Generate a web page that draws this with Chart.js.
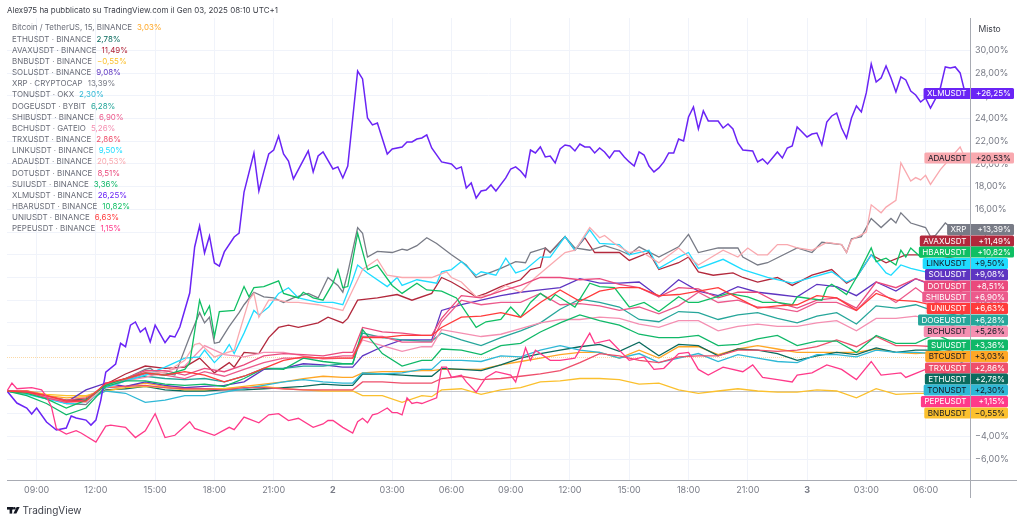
<!DOCTYPE html>
<html>
<head>
<meta charset="utf-8">
<title>Crypto compare</title>
<script src="https://cdn.jsdelivr.net/npm/chart.js@4/dist/chart.umd.min.js"></script>
<style>
    html, body { margin: 0; padding: 0; background: #fff; }
    canvas { display: block; }
</style>
</head>
<body>
<canvas id="chart" width="1024" height="522"></canvas>
<script>
// All values are % change. One bar = 15 minutes, bar 0 = 07:30.
const caption = 'Alex975 ha pubblicato su TradingView.com il Gen 03, 2025 08:10 UTC+1';
const tickBars = [6, 18, 30, 42, 54, 66, 78, 90, 102, 114, 126, 138, 150, 162, 174, 186];
const tickLabels = ['09:00', '12:00', '15:00', '18:00', '21:00', '2', '03:00', '06:00', '09:00', '12:00',
    '15:00', '18:00', '21:00', '3', '03:00', '06:00'];
const pctTicks = [-6, -4, -2, 0, 2, 4, 6, 8, 10, 12, 14, 16, 18, 20, 22, 24, 26, 28, 30];

// the bunched series are read once per hour, plus the bars just before the two jumps
const hourBars = [0, 4, 8, 12, 16, 20, 24, 28, 32, 36, 40, 44, 48, 52, 56, 60, 64, 68, 70, 72, 76, 80, 84, 86, 88, 92, 96,
    100, 104, 108, 112, 116, 120, 124, 128, 132, 136, 140, 144, 148, 152, 156, 160, 164, 168, 172, 176, 180, 184,
    188, 192, 194];

const btc = [0, 0, -.4, -.6, -.5, .3, .4, .7, .4, .3, .2, .2, .4, .6, .8, 1.1, 1.3, 1.2, 1.2, 1.6, 1.7,
    1.7, 1.8, 1.8, 1.9, 1.9, 1.9, 2.3, 2.6, 2.9, 3.2, 3.4, 3.4, 2.9, 3.6, 2.9, 3.9, 3.9, 3.2, 3.7, 4, 3.7,
    3.4, 3.4, 3.4, 3.4, 3.7, 3.4, 3.3, 3.4, 3.2, 3.03];
const eth = [0, -.1, -.5, -.8, -.7, .1, .2, .4, .1, 0, 0, .1, .1, .2, .3, .4, .6, .5, .5, 1.5, 1.5,
    1.4, 1.3, 1.3, 2, 1.9, 1.8, 2.3, 2.9, 3.3, 3.6, 3.9, 4.1, 3.5, 4.3, 3.1, 4.1, 4, 3.1, 3.7, 3.6, 3.3,
    2.7, 3.1, 3.4, 3.2, 3.8, 3.4, 3.6, 3.6, 3.2, 2.78];
const bnb = [0, 0, -.3, -.4, -.4, 0, .3, .4, .3, .1, .1, .2, .3, .4, .2, .1, 0, 0, 0, -.4, -.4,
    -1, -.4, -.5, .1, .2, -.3, .1, .3, .8, .9, 1.1, 1.1, 1, .6, .7, .1, -.2, 0, .2, 0, -.1,
    -.1, .1, 0, -.6, .2, -.3, -.2, -.2, -.2, -.55];
const sol = [0, -.2, -.6, -1, .1, .7, .4, .8, .5, .3, .4, .5, .8, 1.9, 2, 2.4, 2.3, 2.1, 2.1, 3.1, 3.9,
    4.5, 4.5, 4.5, 7.1, 7.6, 8, 8.4, 8.7, 8.9, 9.1, 9.9, 9.5, 9.5, 9.6, 8.3, 9.8, 8.8, 8.4, 9.2, 8.7, 8.5,
    8.3, 9.4, 9.2, 8.4, 9.6, 8.8, 9.9, 9.2, 9.3, 9.08];
const ton = [0, -.1, -.6, -1, -.9, 0, -.2, -1, -.8, -.4, -.4, -.1, .2, .5, .8, 1, .8, .7, .7, 1.6, 1.5,
    1.6, 1.9, 1.9, 2.7, 2.7, 2.6, 3.1, 3, 3.6, 4, 3.6, 3.4, 2.9, 3.3, 2.5, 2.9, 3.3, 2.6, 3.2, 2.9, 2.6,
    2.5, 3.2, 3.2, 3, 3.6, 3.4, 3.4, 3.3, 2.9, 2.3];
const doge = [0, -.1, -.6, -1, -1, .4, 1, 1.3, 1.1, 1, 1.1, .8, 1.3, 2, 2, 2.2, 2.2, 2.4, 2.4, 5.1, 4.7,
    4.5, 4.4, 4.4, 5.1, 4.5, 4, 4.7, 5.3, 6, 7.2, 8.1, 7.8, 7.4, 6.3, 6.1, 7, 6.9, 6.3, 6.7, 6.9, 6.4,
    6, 6.6, 6.9, 5.9, 7.5, 7.3, 7.6, 7, 6.7, 6.28];
const shib = [0, -.1, -.7, -1, -1, .4, 1, 1.5, 1.4, 1.1, 1.7, 1.3, 1.9, 2.5, 2.9, 2.9, 2.9, 3.1, 3.1, 4.8, 4.8,
    4.3, 4.3, 4.3, 6.1, 8, 7.6, 7.8, 7.8, 8.6, 7.6, 7.7, 7.5, 7.1, 7.4, 6.8, 7.5, 8.7, 7.8, 8, 7.4, 7.3,
    7, 7.8, 7.8, 7.1, 8.9, 7.8, 9.1, 7.8, 7.5, 6.9];
const bch = [0, -.1, -.5, -.9, -1, .3, .9, 1.2, 1.7, 2.2, 4, 3.2, 3, 3.4, 3.4, 3.1, 2.8, 2.9, 2.9, 4.5, 4,
    3.5, 3.9, 3.9, 5.4, 5.1, 4.8, 5, 5.5, 6, 6.3, 6.3, 6.5, 6.4, 5.9, 5.6, 6.2, 6.2, 5.3, 5.7, 5.9, 5.7,
    5.7, 6, 6.2, 5.3, 6.4, 6.4, 6.6, 6.2, 5.7, 5.26];
const trx = [0, 0, -.4, -.8, -.6, .3, .4, .5, .3, .2, .2, .1, .3, .3, .2, .1, .1, .1, .1, .8, .8,
    .7, .7, .7, 1.1, 1.3, 1, 1.1, 1.3, 1.5, 1.8, 2.5, 3.3, 3.1, 2.7, 2.5, 3, 3.1, 3.1, 3.6, 3.6, 3.5,
    3.6, 3.9, 4.5, 3.9, 4.8, 4, 4, 3.9, 3.4, 2.86];
const dot = [0, -.1, -.6, -1, -.8, .6, 1.1, 1.8, 1.8, 1.4, 2, 1.7, 2.3, 3.1, 3.3, 3.2, 3.1, 3.4, 3.4, 5.6, 5.2,
    5.1, 4.9, 4.9, 6.4, 8.4, 8.2, 8.8, 9.3, 10, 10, 9.8, 9.9, 9.4, 9.1, 8.3, 9.1, 9, 8.2, 8.7, 8.7, 7.8,
    7.3, 8, 8.2, 7.3, 9.6, 9.1, 9.9, 9.3, 9.1, 8.51];
const sui = [0, -.4, -1.1, -2.1, -1.5, .4, .9, .9, .6, .5, .6, .4, 1.1, 2, 1.9, 2.9, 2.6, 2.4, 2.4, 5.4, 3.3,
    2.2, 2.7, 2.7, 3.7, 3.6, 3.2, 4, 4.2, 5.2, 6, 6.7, 6.2, 5.8, 5, 4.7, 4.7, 4.9, 4, 4.1, 4.6, 4.9,
    4, 4.4, 4.4, 3.4, 4.9, 4.2, 4.2, 5, 4.2, 3.36];
const uni = [0, -.1, -.4, -.9, -.9, .7, 1.1, 1.6, 1.4, 1.7, 1.4, .8, 1.3, 2, 2.7, 3, 2.9, 2.9, 2.9, 4.7, 4.7,
    4.9, 4.9, 4.9, 5.6, 6.5, 6.6, 6.9, 6.5, 7.8, 8.9, 7.9, 8.8, 9.1, 9.1, 8.4, 8.5, 8.8, 9.1, 8.2, 7.3, 7.5,
    7.6, 8.4, 8.2, 7.1, 8.6, 8, 7.9, 7.5, 7, 6.63];

// the ones that stand out are read vertex by vertex, each with its own bars
const xrpBars = [0, 4, 8, 12, 16, 20, 24, 28, 29, 30, 32, 34, 37, 39, 40, 41, 42, 43, 45, 47, 48, 50, 52, 54, 56, 58, 61, 63, 65, 67,
    68, 69, 71, 72, 73, 75, 78, 80, 81, 83, 85, 87, 90, 93, 95, 97, 100, 103, 105, 106, 109, 110, 113, 115, 118, 121, 124, 126,
    128, 132, 136, 138, 140, 144, 148, 149, 152, 154, 160, 163, 165, 169, 170, 171, 173, 175, 177, 179, 180, 181, 183, 186, 187,
    188, 190, 194];
const xrp = [0, -.2, -.5, -1.1, -1.2, .5, 1.1, 1.9, 2, 1.7, 1.6, 1.4, 4.8, 6.9, 6, 6.5, 4.2, 4.3, 5.7, 6.9, 7.6, 8.7, 8.3, 8.2, 7.8, 8.2, 8.6, 8.2, 10, 9.3,
    8.7, 10.4, 14.4, 13.9, 11.8, 12.3, 12.2, 12.5, 12.4, 12.8, 13.5, 13, 12, 11.1, 10, 10.3, 10.8, 11.4, 11.3, 12.2, 12.6, 12.2, 13.6, 12.6, 12.4, 12.8, 12.4, 12,
    12.7, 11.8, 12.7, 13.8, 12.2, 12.6, 12.6, 11.8, 11.1, 11.3, 12.6, 12.2, 13.1, 12.9, 12.2, 13.4, 13.6, 15.2, 14.4, 15.2, 14.8, 15.7, 14.8, 14.4, 13.6,
    13.7, 14.8, 13.39];
const hbarBars = [0, 4, 8, 12, 16, 20, 24, 28, 32, 36, 37, 39, 40, 41, 42, 43, 46, 48, 49, 50, 52, 55, 56, 59, 60, 62, 64, 66, 67, 68, 69, 71, 73, 75, 78,
    80, 83, 85, 88, 91, 95, 97, 100, 102, 104, 106, 108, 110, 111, 115, 118, 120, 123, 126, 129, 132, 136, 138, 140, 146, 150, 153, 156, 159, 160,
    165, 166, 167, 170, 172, 175, 176, 178, 180, 181, 182, 183, 185, 190, 194];
const hbar = [0, -.2, -.7, -1.5, -.8, .5, 1.1, 1.6, 1.4, 1.9, 2.5, 8, 6.7, 7.5, 4.8, 7, 7.1, 9.2, 8.3, 9.1, 9.2, 9.7, 8.6, 8.2, 8.7, 8.2, 8, 9.5, 10.7, 9.1, 9.2, 13.9, 10.7, 11.1, 9.3,
    8.6, 9.5, 8.9, 8.8, 8.2, 5.6, 6.1, 6.3, 7.4, 6.5, 7.8, 8.6, 8, 8.5, 7.4, 9.5, 9.2, 9.1, 7.4, 7.8, 7, 8.3, 7.8, 7.8, 8.6, 8.3, 7.8, 7.8, 7.6, 8.3,
    8, 9.1, 9.4, 8.5, 10, 12.6, 11.4, 11.7, 11.1, 12.4, 11.8, 12.6, 11.8, 12, 10.82];
const adaBars = [0, 4, 8, 12, 16, 20, 24, 28, 32, 36, 38, 39, 42, 46, 47, 49, 50, 51, 53, 55, 57, 59, 63, 68, 70, 72, 75, 77, 80, 86, 89, 90, 92, 95, 98,
    101, 104, 107, 110, 113, 115, 118, 120, 121, 123, 126, 128, 132, 136, 140, 145, 148, 150, 152, 154, 156, 158, 160, 163, 166, 169, 170, 171, 174,
    175, 177, 178, 180, 181, 183, 184, 185, 186, 187, 189, 193, 194];
const ada = [0, -.2, -.6, -1, -1, .4, 1.1, 1.7, 1.6, 2.7, 4.1, 4.2, 3, 3.6, 5.1, 8, 8.6, 6.5, 8, 8, 7.8, 7.8, 7.6, 7.1, 8.9, 10.7, 11.6, 10.2, 10, 10, 10.5, 10, 9.6, 8.3, 8.5,
    9.3, 8.7, 10, 11.1, 12.2, 12.4, 14.4, 13.5, 13.7, 13, 12.2, 12.4, 11.3, 12.6, 11.1, 12.4, 11.8, 12.6, 12, 12, 12.9, 12.9, 12.6, 12.4, 13.1, 12.9, 12.2, 13.3, 14,
    16.4, 15.7, 16.2, 16.8, 20.1, 18.5, 18.8, 18.6, 19, 18.2, 19.5, 21.5, 20.53];
const linkBars = [0, 4, 8, 12, 16, 20, 24, 28, 32, 36, 39, 40, 42, 44, 45, 46, 48, 50, 51, 53, 55, 57, 59, 63, 66, 68, 70, 71, 73, 77, 79, 80, 83, 87, 88, 90, 92, 95, 96, 99,
    101, 103, 105, 108, 110, 113, 115, 118, 120, 124, 126, 130, 132, 136, 138, 140, 145, 149, 154, 159, 163, 167, 170, 172, 175, 178, 179, 181, 183, 186, 194];
const link = [0, -.3, -.7, -1.1, -1, .3, .9, 1.4, 2.1, 2.9, 3, 3.6, 2.5, 3.4, 4.1, 3.3, 5.1, 7.1, 6.7, 7.4, 8.6, 9.1, 8.2, 7.8, 7.8, 7.6, 9.8, 11.1, 10.4, 9.2, 10, 9.3, 9.8, 9.5, 10.5, 10.7, 11.4, 10.2, 10.5, 10.2,
    11.7, 10.4, 10.7, 11.8, 11.8, 13.6, 12.4, 14.2, 13, 12.9, 12, 12.4, 10.8, 11.8, 12.2, 10.8, 11.6, 10.7, 10, 9.5, 10, 10.5, 9.6, 10, 12, 10.4, 10.2, 11.1, 10.8, 10.5, 9.5];
const avaxBars = [0, 4, 8, 12, 16, 20, 24, 28, 32, 36, 39, 42, 45, 46, 48, 51, 53, 55, 57, 59, 61, 63, 65, 68, 69, 71, 75, 79, 82, 86, 88, 90, 92, 95, 97, 100, 102, 104, 106, 108, 109, 110,
    113, 115, 117, 119, 124, 126, 130, 132, 136, 138, 140, 143, 147, 149, 152, 156, 159, 163, 167, 170, 172, 175, 178, 182, 188, 194];
const avax = [0, -.1, -.5, -.9, -.8, .6, 1.5, 2.2, 2, 2.1, 2.9, 1.6, 2.5, 2.1, 3.4, 3.3, 4.7, 5.6, 5.8, 5.6, 5.8, 6, 6.5, 6, 6.4, 8, 8.2, 8.5, 8, 8.6, 10, 9.6, 9.1, 8.3, 8.6, 9.2, 9.5, 9.8, 10.7, 10.9, 12.6, 12.2,
    13.6, 12.4, 13.5, 12.2, 12.2, 11.5, 12.2, 10.7, 11.3, 11.8, 10.5, 10.2, 10.4, 10, 9.6, 10, 9.3, 10.2, 10.7, 9.5, 10, 12, 11.3, 12, 12, 11.49];
const pepeBars = [0, 1, 2, 5, 7, 8, 9, 10, 12, 14, 15, 18, 20, 21, 24, 26, 28, 30, 32, 34, 37, 38, 42, 45, 46, 48, 51, 53, 55, 57, 59, 62, 64, 65, 66, 68, 70, 71, 72, 73, 74, 75, 77, 78, 79, 80,
    81, 82, 83, 84, 87, 88, 89, 90, 92, 93, 95, 97, 99, 102, 103, 105, 106, 107, 110, 112, 115, 118, 119, 122, 126, 129, 131, 133, 136, 138, 140, 142, 145, 149, 151, 153, 156, 159, 160,
    163, 166, 169, 172, 175, 177, 181, 182, 186, 194];
const pepe = [0, .7, .2, .3, .1, -.5, -1.4, -3.3, -3.8, -3.5, -3.7, -4.5, -3.1, -3, -3.2, -4.1, -3.5, -2, -4.1, -3.9, -2.7, -3.3, -3.9, -3.2, -3.4, -2.3, -2.8, -2.1, -2, -2.6, -2.4, -3.2, -2.9, -2.6, -2.6, -3.2, -3.7, -2.7, -2.4, -2.8, -2.1, -2, -1.5, -1.9, -1.9, -2.1,
    -.6, -1.1, -1, -1.1, -.6, 2.1, 2.1, 1.2, 1.4, .8, -.1, 1.2, 1.7, 1.4, .8, 3.8, 2.7, 3.6, 2.7, 2.7, 2.9, 5.1, 4.2, 4.5, 2.7, 3, 1.9, 2, 3.3, 3.4, 1.9, 1.4, 2.1, 1.7, 2.3, 1.2, 1, .8, 1.4,
    1.6, 2.3, 1.9, 1, 2.6, 1.4, 1.6, 1.2, 1.9, 1.15];
const xlmBars = [0, 2, 4, 5, 6, 8, 10, 12, 13, 14, 16, 17, 18, 19, 20, 22, 23, 24, 25, 26, 27, 28, 29, 30, 32, 33, 34, 35, 37,
    38, 39, 40, 41, 42, 43, 44, 46, 47, 48, 50, 51, 52, 53, 54, 55, 56, 57, 58, 61, 62, 63, 64, 66, 67, 68, 69, 71,
    72, 73, 74, 75, 77, 78, 80, 81, 82, 83, 84, 85, 86, 88, 90, 91, 92, 93, 94, 95, 96, 97, 98, 99, 101, 102, 103,
    104, 105, 106, 107, 108, 109, 110, 111, 112, 113, 114, 115, 116, 117, 118, 119, 120, 121, 122, 123, 124, 125,
    126, 127, 128, 129, 130, 131, 132, 133, 134, 135, 136, 137, 138, 139, 140, 141, 142, 144, 145, 146, 147, 148,
    149, 151, 152, 153, 154, 156, 157, 158, 159, 160, 162, 163, 164, 165, 166, 167, 168, 169, 170, 171, 172, 173,
    174, 175, 176, 177, 178, 179, 180, 181, 182, 183, 184, 185, 186, 187, 188, 189, 190, 191, 192, 193, 194];
const xlm = [0, -1.06, -1.5, -2.03, -1.5, -2.73, -3.44, -3.26, -2.2, -2.38, -2.56, -3, -2.56, -.8, 1.67, 2.38, 4.2, 3.9, 5.8,
    6.08, 5.2, 5.55, 4.34, 5.8, 4.26, 4.85, 4.76, 5.64, 8.63, 12.69, 14.54, 12.16, 13.66, 11.28, 11.01, 12.25, 13.57,
    13.92, 17.53, 20.97, 17.62, 19.3, 20.88, 21.23, 22.47, 20.88, 20.26, 18.68, 21.15, 19.3, 20.7, 21.06, 19.56, 19.74,
    18.77, 19.82, 28.19, 27.49, 24.05, 23.44, 23.61, 20.88, 21.32, 21.5, 21.94, 21.94, 22.2, 22.29, 22.56, 21.41,
    20.18, 20, 19.56, 19.74, 17.89, 18.33, 17, 17.62, 17.71, 18.15, 17.62, 18.77, 19.56, 19.74, 19.38, 18.85, 21.23,
    20.97, 21.5, 20.62, 20.7, 20.09, 21.32, 21.67, 21.59, 21.15, 21.76, 21.5, 21.5, 20.97, 21.41, 21.06, 20.53, 21.15,
    21.15, 20.62, 20.18, 19.82, 21.06, 20.79, 19.82, 19.3, 19.65, 20.18, 20.97, 20.97, 22.2, 22.03, 24.14, 25.02,
    23.08, 24.67, 23.79, 23.79, 23.17, 23.52, 23.08, 21.85, 21.23, 21.15, 20.18, 20.44, 20, 21.06, 20.53, 21.41,
    21.59, 23.26, 22.38, 22.64, 22.73, 21.67, 23.7, 24.23, 24.49, 23.17, 22.29, 24.05, 25.11, 24.58, 26.26, 28.81,
    27.22, 27.58, 28.63, 27.58, 26.34, 27.67, 27.4, 26.43, 26.08, 25.46, 25.81, 24.93, 25.73, 26.7, 28.55, 28.46,
    28.55, 28.02, 26.25];

// legend order from the picture, later ones are drawn on top
const seriesNames = ['BTCUSDT', 'ETHUSDT', 'AVAXUSDT', 'BNBUSDT', 'SOLUSDT', 'XRP', 'TONUSDT', 'DOGEUSDT', 'SHIBUSDT', 'BCHUSDT',
    'TRXUSDT', 'LINKUSDT', 'ADAUSDT', 'DOTUSDT', 'SUIUSDT', 'XLMUSDT', 'HBARUSDT', 'UNIUSDT', 'PEPEUSDT'];
const legendNames = ['Bitcoin / TetherUS, 15, BINANCE', 'ETHUSDT · BINANCE', 'AVAXUSDT · BINANCE', 'BNBUSDT · BINANCE', 'SOLUSDT · BINANCE',
    'XRP · CRYPTOCAP', 'TONUSDT · OKX', 'DOGEUSDT · BYBIT', 'SHIBUSDT · BINANCE', 'BCHUSDT · GATEIO', 'TRXUSDT · BINANCE',
    'LINKUSDT · BINANCE', 'ADAUSDT · BINANCE', 'DOTUSDT · BINANCE', 'SUIUSDT · BINANCE', 'XLMUSDT · BINANCE', 'HBARUSDT · BINANCE',
    'UNIUSDT · BINANCE', 'PEPEUSDT · BINANCE'];
const seriesValues = [btc, eth, avax, bnb, sol, xrp, ton, doge, shib, bch, trx, link, ada, dot, sui, xlm, hbar, uni, pepe];
const seriesBars = [hourBars, hourBars, avaxBars, hourBars, hourBars, xrpBars, hourBars, hourBars, hourBars, hourBars,
    hourBars, linkBars, adaBars, hourBars, hourBars, xlmBars, hbarBars, hourBars, pepeBars];
const seriesColors = ['#ffa726', '#0b6b5e', '#b2283c', '#fbc02d', '#5e35c1', '#787b86', '#2fb8d6', '#26a69a', '#ec5a8c', '#f48fb1',
    '#ee4f6b', '#1fdcff', '#f9a9af', '#ea4a7d', '#10b868', '#6a24f5', '#0fbf63', '#ff3b3b', '#ff3a8a'];

// price tags down the right edge, top to bottom
const tagOrder = ['XLMUSDT', 'ADAUSDT', 'XRP', 'AVAXUSDT', 'HBARUSDT', 'LINKUSDT', 'SOLUSDT', 'DOTUSDT', 'SHIBUSDT', 'UNIUSDT',
    'DOGEUSDT', 'BCHUSDT', 'SUIUSDT', 'BTCUSDT', 'TRXUSDT', 'ETHUSDT', 'TONUSDT', 'PEPEUSDT', 'BNBUSDT'];
const tagCenters = [93.5, 158, 229.7, 241, 252, 263.5, 274.7, 286, 297, 308.5, 320, 331.5, 345, 356.5, 368, 379, 390, 401.7, 413];
const tagDarkText = ['ADAUSDT', 'LINKUSDT', 'BCHUSDT', 'BTCUSDT', 'TONUSDT', 'BNBUSDT'];

const FONT = 'Inter, "Noto Sans", sans-serif';

function fmtPct(v) {
    return v.toFixed(2).replace('.', ',').replace('-', '\u2212') + '%';
}


function drawLogo(ctx) {
    ctx.fillStyle = '#131722';
    ctx.fillRect(7, 507, 6.5, 2.6);
    ctx.fillRect(9.6, 507, 2.6, 6.6);
    ctx.beginPath();
    ctx.arc(14.4, 508.2, 1.2, 0, Math.PI * 2);
    ctx.fill();
    ctx.beginPath();
    ctx.moveTo(16.6, 507);
    ctx.lineTo(19.6, 507);
    ctx.lineTo(16.4, 513.6);
    ctx.lineTo(13.4, 513.6);
    ctx.closePath();
    ctx.fill();
}


const overlayPlugin = {
    id: 'overlay',
    beforeDatasetsDraw(chart) {
        const {ctx, chartArea, scales} = chart;
        ctx.save();
        // zero line, and the faint last price line of the main symbol
        ctx.strokeStyle = '#c4c6cc';
        ctx.lineWidth = 1;
        ctx.beginPath();
        const y0 = Math.round(scales.y.getPixelForValue(0)) + 0.5;
        ctx.moveTo(chartArea.left, y0);
        ctx.lineTo(chartArea.right, y0);
        ctx.stroke();
        ctx.strokeStyle = '#fbd9a6';
        ctx.setLineDash([1, 1]);
        ctx.beginPath();
        const yLast = Math.round(scales.y.getPixelForValue(btc[btc.length - 1])) + 0.5;
        ctx.moveTo(chartArea.left, yLast);
        ctx.lineTo(chartArea.right, yLast);
        ctx.stroke();
        ctx.restore();
    },
    afterDraw(chart) {
        const {ctx, chartArea} = chart;
        ctx.save();

        // axis frame
        ctx.fillStyle = '#a8abb3';
        ctx.fillRect(chartArea.left, chartArea.bottom, 1017 - chartArea.left, 1);
        ctx.fillRect(chartArea.right, chartArea.top, 1, 498 - chartArea.top);

        // tags
        ctx.textBaseline = 'middle';
        ctx.font = `8.1px ${FONT}`;
        tagOrder.forEach((name, i) => {
            const idx = seriesNames.indexOf(name);
            const vals = seriesValues[idx];
            const last = vals[vals.length - 1];
            const text = (last >= 0 ? '+' : '') + fmtPct(last);
            const cy = tagCenters[i];
            const nameW = ctx.measureText(name).width + 7;
            const right = i < 5 ? 1014 : 1008;
            const left = chartArea.right - nameW;
            ctx.fillStyle = seriesColors[idx];
            ctx.beginPath();
            ctx.roundRect(left, cy - 5.6, right - left, 11.2, 1.5);
            ctx.fill();
            ctx.fillStyle = '#a8abb3';
            ctx.fillRect(chartArea.right, cy - 5.6, 1, 11.2);
            ctx.fillStyle = tagDarkText.includes(name) ? '#131722' : '#ffffff';
            ctx.textAlign = 'right';
            ctx.fillText(name, chartArea.right - 3.5, cy + 0.3);
            ctx.fillText(text, right - 3, cy + 0.3);
        });

        // caption and legend
        ctx.textAlign = 'left';
        ctx.textBaseline = 'middle';
        ctx.fillStyle = '#3c3f48';
        ctx.font = `7.95px ${FONT}`;
        ctx.fillText(caption, 7, 10.5);
        legendNames.forEach((name, i) => {
            const y = 28 + i * 11.17;
            const vals = seriesValues[i];
            ctx.fillStyle = '#6a6d78';
            ctx.fillText(name, 12, y);
            const w = ctx.measureText(name).width;
            ctx.fillStyle = seriesColors[i];
            ctx.fillText(fmtPct(vals[vals.length - 1]), 12 + w + 5, y);
        });

        // scale mode, branding
        ctx.fillStyle = '#ffffff';
        ctx.fillRect(972, 21, 44, 16);
        ctx.fillStyle = '#3c3f48';
        ctx.font = `8.6px ${FONT}`;
        ctx.fillText('Misto', 978.5, 29);
        ctx.font = `10px ${FONT}`;
        ctx.fillStyle = '#3c3f48';
        ctx.fillText('TradingView', 22.5, 511);
        drawLogo(ctx);
        ctx.restore();
    }
};


const datasets = seriesNames.map((name, i) => ({
    label: name,
    data: seriesValues[i].map((v, j) => ({x: seriesBars[i][j], y: v})),
    borderColor: seriesColors[i],
    borderWidth: seriesValues[i] === xlm ? 1.5 : 1.3,
    pointRadius: 0,
    tension: 0,
    fill: false
})).reverse();

new Chart(document.getElementById('chart').getContext('2d'), {
    type: 'line',
    data: {datasets},
    plugins: [overlayPlugin],
    options: {
        responsive: false,
        animation: false,
        devicePixelRatio: 1,
        layout: {padding: {left: 7, top: 18, right: 0, bottom: 0}},
        plugins: {legend: {display: false}, title: {display: false}, tooltip: {enabled: false}},
        scales: {
            x: {
                type: 'linear',
                min: 0,
                max: 195,
                afterBuildTicks: axis => {
                    axis.ticks = tickBars.map(value => ({value}));
                },
                afterFit: axis => {
                    axis.height = 42;
                },
                grid: {color: '#f0f3fa', lineWidth: 1, drawTicks: false},
                border: {display: false},
                ticks: {
                    autoSkip: false,
                    maxRotation: 0,
                    padding: 5,
                    color: '#787b86',
                    font: ctx => ({family: FONT, size: 9, weight: /:/.test(tickLabels[ctx.index]) ? 'normal' : 'bold'}),
                    callback: (value, index) => tickLabels[index]
                }
            },
            y: {
                position: 'right',
                min: -7.84,
                max: 32.86,
                afterBuildTicks: axis => {
                    axis.ticks = pctTicks.map(value => ({value}));
                },
                afterFit: axis => {
                    axis.width = 54;
                },
                grid: {color: '#f0f3fa', lineWidth: 1, drawTicks: false},
                border: {display: false},
                ticks: {
                    autoSkip: false,
                    padding: 5,
                    color: '#787b86',
                    font: {family: FONT, size: 9},
                    callback: value => value.toFixed(2).replace('.', ',').replace('-', '\u2212') + '%'
                }
            }
        }
    }
});
</script>
</body>
</html>
